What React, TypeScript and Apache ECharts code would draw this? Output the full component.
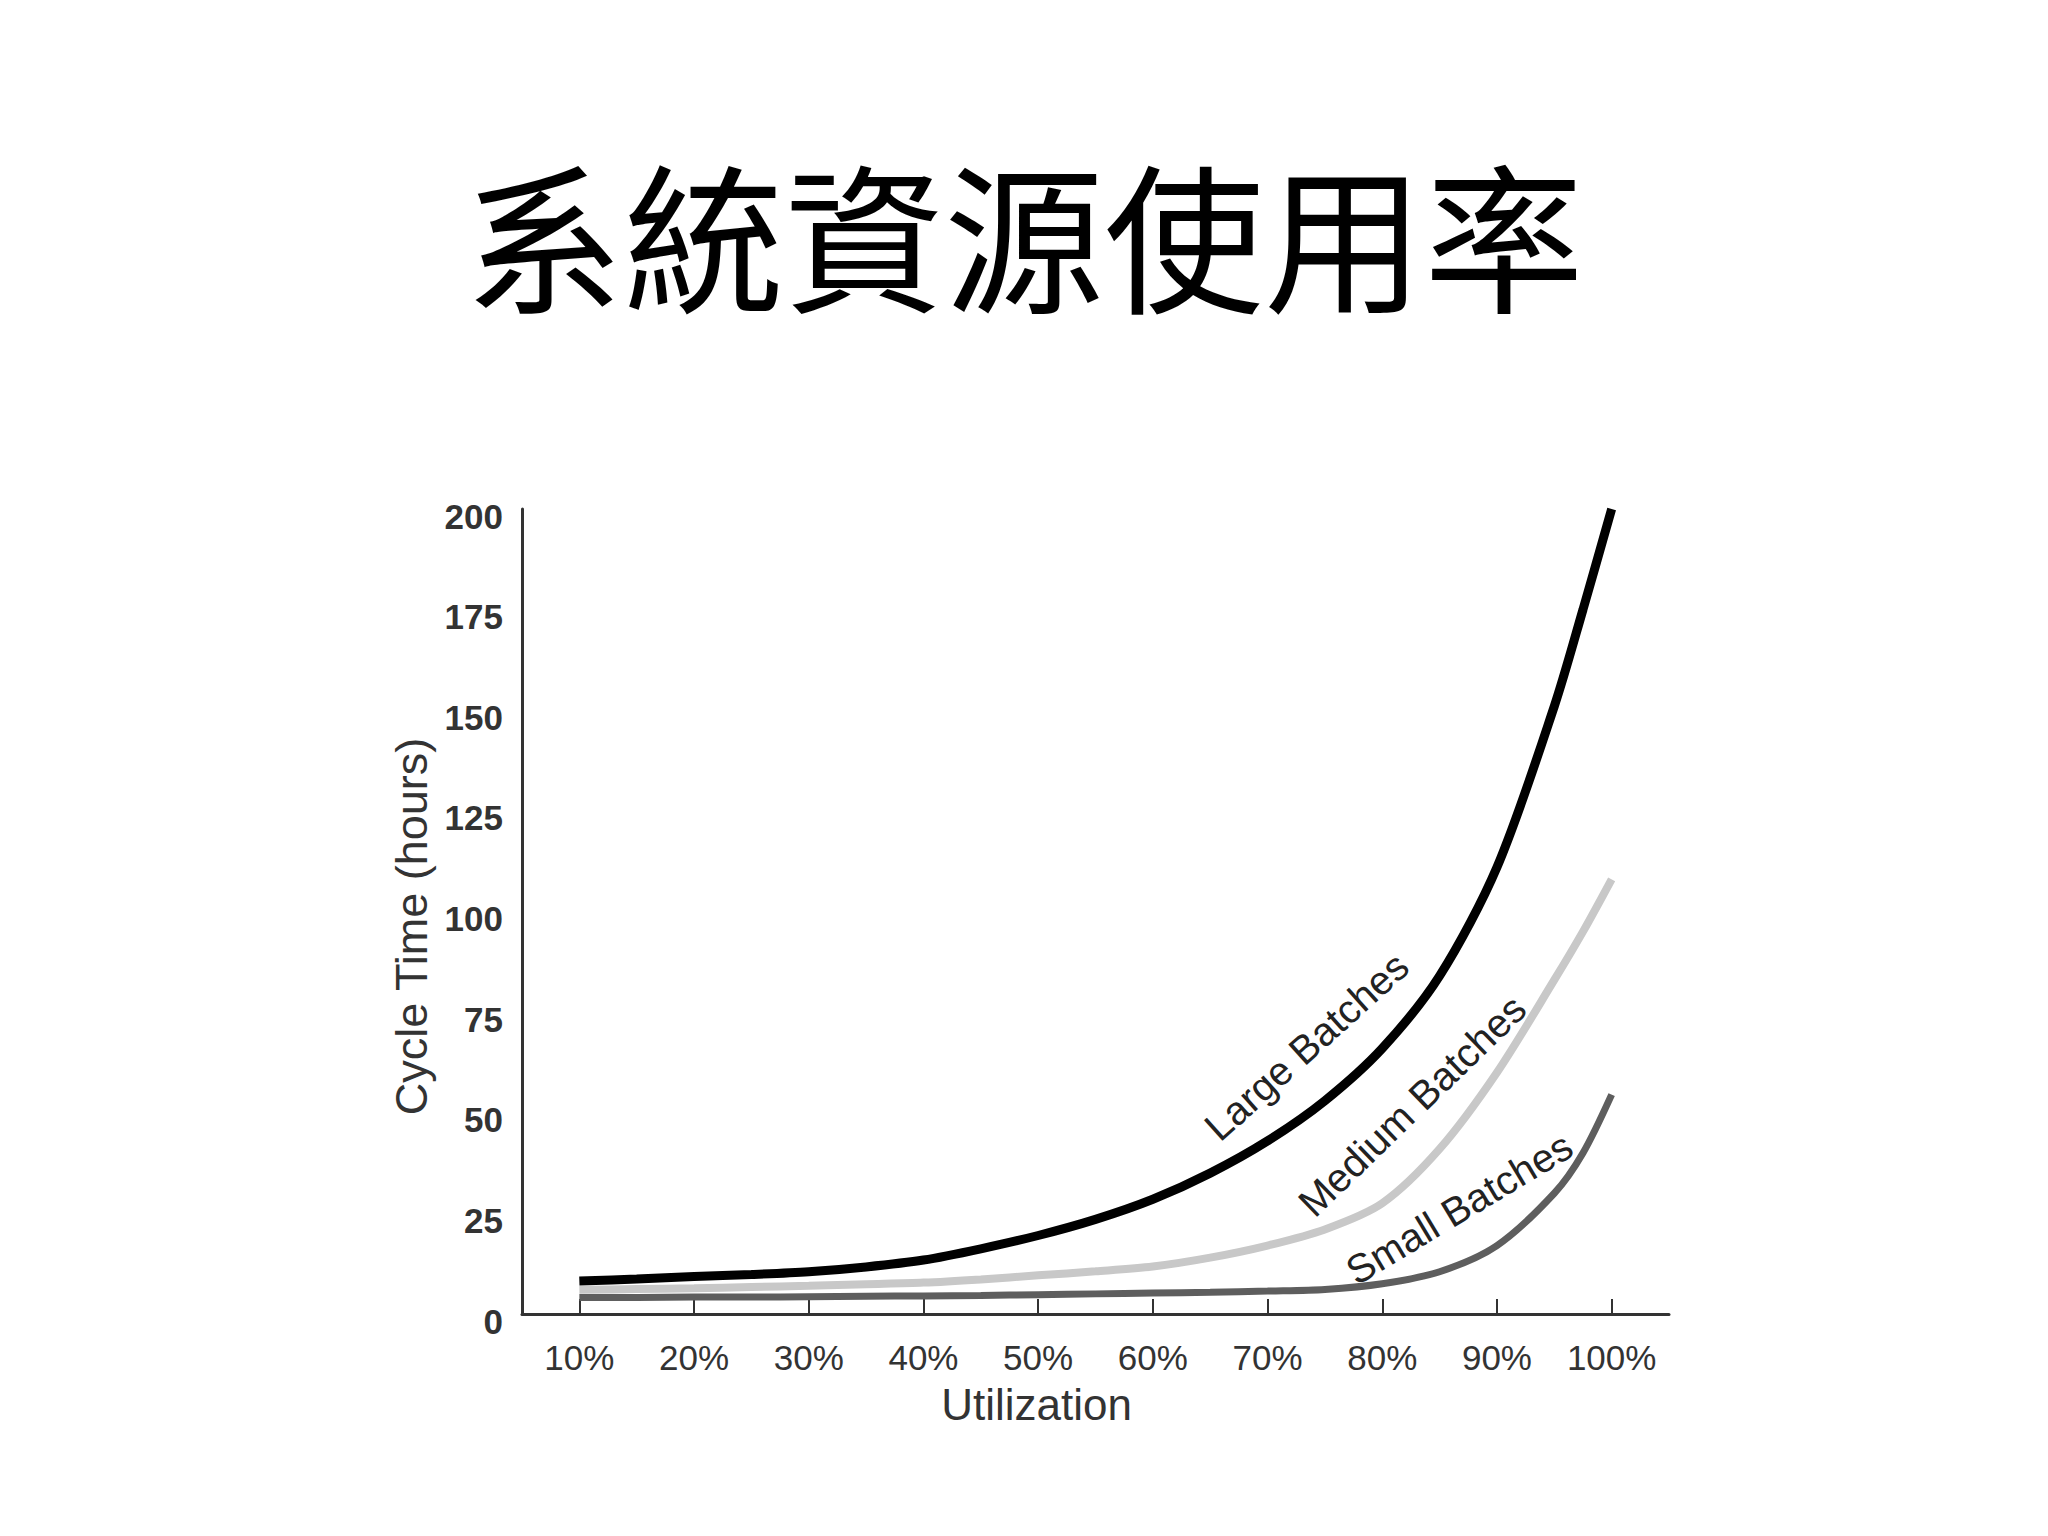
import React, { useEffect, useRef } from "react";
import * as echarts from "echarts";

// Utilization (%) sample points
const utilization = [10, 15, 20, 25, 30, 35, 40, 45, 50, 55, 60, 65, 70, 75, 80, 85, 90, 95, 97.5, 100];
const largeBatches = [8.2, 8.7, 9.3, 9.8, 10.5, 11.7, 13.4, 16.2, 19.5, 23.5, 28.5, 35, 43, 53, 66, 84, 111, 151, 175, 200];
const mediumBatches = [6.0, 6.2, 6.4, 6.7, 7.0, 7.4, 7.8, 8.6, 9.6, 10.6, 11.8, 14, 17, 21, 27.5, 41, 60, 83, 95, 108];
const smallBatches = [4.1, 4.1, 4.2, 4.2, 4.3, 4.4, 4.5, 4.6, 4.8, 5.0, 5.2, 5.4, 5.7, 6.1, 7.5, 10.5, 17, 30, 40, 54.5];

const xTickValues = [10, 20, 30, 40, 50, 60, 70, 80, 90, 100];
const seriesNames = ["Large Batches", "Medium Batches", "Small Batches"];

// label anchors in data coordinates [utilization, hours] and angle in degrees
const curveLabels = [
  { text: "Large Batches", at: [73.4, 66.5], angle: 42 },
  { text: "Medium Batches", at: [82.6, 51.8], angle: 44 },
  { text: "Small Batches", at: [86.7, 26.3], angle: 31 },
];

const FONT = "'Liberation Sans', Arial, Helvetica, sans-serif";

const zip = (xs: number[], ys: number[]) => xs.map((x, i) => [x, ys[i]]);

export default function App() {
  const ref = useRef<HTMLDivElement>(null);
  useEffect(() => {
    if (!ref.current) return;
    const chart = echarts.init(ref.current, undefined, { renderer: "svg" });
    const lineSeries = (name: string, ys: number[], color: string, width: number, z: number) => ({
      name,
      type: "line",
      data: zip(utilization, ys),
      smooth: 0.3,
      showSymbol: false,
      lineStyle: { color, width, cap: "butt" },
      z,
    });
    const option: any = {
      animation: false,
      backgroundColor: "#ffffff",
      title: {
        text: "系統資源使用率",
        left: "center",
        top: 146,
        textStyle: {
          fontFamily: "'Noto Sans CJK TC', sans-serif",
          fontSize: 160,
          fontWeight: "normal",
          color: "#000",
        },
      },
      grid: { left: 522, top: 509, width: 1147, height: 805, containLabel: false },
      xAxis: {
        type: "value",
        min: 5,
        max: 105,
        name: "Utilization",
        nameLocation: "middle",
        nameGap: 68,
        nameTextStyle: {
          fontFamily: FONT,
          fontSize: 44,
          color: "#333",
          padding: [0, 118, 0, 0],
        },
        axisLine: { show: true, lineStyle: { color: "#333", width: 3 } },
        axisTick: {
          show: true,
          inside: true,
          length: 15,
          customValues: xTickValues,
          lineStyle: { color: "#333", width: 2 },
        },
        axisLabel: {
          customValues: xTickValues,
          formatter: (v: number) => `${v}%`,
          fontFamily: FONT,
          fontSize: 35,
          color: "#333",
          margin: 26,
        },
        splitLine: { show: false },
      },
      yAxis: {
        type: "value",
        min: 0,
        max: 200,
        interval: 25,
        name: "Cycle Time (hours)",
        nameLocation: "middle",
        nameGap: 86,
        nameTextStyle: {
          fontFamily: FONT,
          fontSize: 45,
          color: "#333",
          padding: [0, 30, 0, 0],
        },
        axisLine: { show: true, lineStyle: { color: "#333", width: 3 } },
        axisTick: { show: false },
        axisLabel: {
          fontFamily: FONT,
          fontSize: 35,
          fontWeight: "bold",
          color: "#333",
          margin: 19,
          verticalAlign: "top",
          lineHeight: 14,
        },
        splitLine: { show: false },
      },
      series: [
        lineSeries(seriesNames[1], mediumBatches, "#c8c8c8", 8, 2),
        lineSeries(seriesNames[2], smallBatches, "#5e5e5e", 7, 3),
        lineSeries(seriesNames[0], largeBatches, "#000000", 9, 4),
      ],
    };
    chart.setOption(option);
    const graphics = curveLabels.map((l) => {
      const p = chart.convertToPixel({ gridIndex: 0 }, l.at) as number[];
      return {
        type: "text",
        x: p[0],
        y: p[1],
        rotation: (l.angle * Math.PI) / 180,
        z: 10,
        style: {
          text: l.text,
          fontFamily: FONT,
          fontSize: 40,
          fill: "#222",
          align: "center",
          verticalAlign: "middle",
        },
      };
    });
    chart.setOption({ graphic: graphics });
    return () => chart.dispose();
  }, []);
  return (
    <div
      ref={ref}
      style={{ position: "absolute", left: 0, top: 0, width: 2048, height: 1536, background: "#fff" }}
    />
  );
}
